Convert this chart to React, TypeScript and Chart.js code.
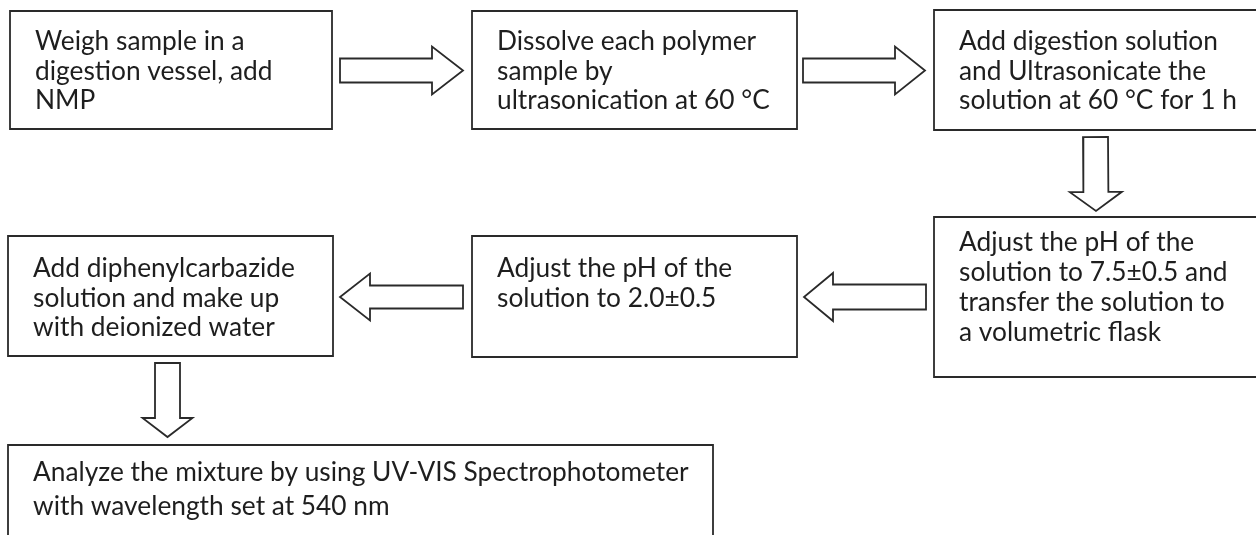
import React, { useEffect, useRef } from 'react';
import { Chart, registerables } from 'chart.js';

Chart.register(...registerables);

// Flow-chart steps (diagram units: x 0..1256, y 0..535 top-down)
const stepTexts: string[][] = [
  ['Weigh sample in a', 'digestion vessel, add', 'NMP'],
  ['Dissolve each polymer', 'sample by', 'ultrasonication at 60 °C'],
  ['Add digestion solution', 'and Ultrasonicate the', 'solution at 60 °C for 1 h'],
  ['Adjust the pH of the', 'solution to 7.5±0.5 and', 'transfer the solution to', 'a volumetric flask'],
  ['Adjust the pH of the', 'solution to 2.0±0.5'],
  ['Add diphenylcarbazide', 'solution and make up', 'with deionized water'],
  ['Analyze the mixture by using UV-VIS Spectrophotometer', 'with wavelength set at 540 nm'],
];
const boxLeft = [10, 472, 934, 934, 472, 8, 8];
const boxRight = [332, 797, 1258, 1258, 797, 333, 713];
const boxTop = [11, 11, 10, 217, 236, 236, 445];
const boxBottom = [129, 129, 130, 377, 357, 356, 545];
const textFirstBaseline = [50, 50, 50, 251, 277, 277, 481];
const textLineGap = [29.5, 29.5, 29.5, 30, 29.5, 29.5, 34];

// Block arrows: tail point, tip point, shaft half-width, head half-width, head length
const arrowTailX = [340, 803, 1095.5, 926, 463, 167.5];
const arrowTailY = [70.5, 70.5, 137, 297, 297, 363];
const arrowTipX = [463, 925, 1096, 804, 340, 167.5];
const arrowTipY = [70.5, 70.5, 211, 297, 297, 437];
const arrowShaftHalf = [12, 12, 12.5, 12.5, 11.5, 12.5];
const arrowHeadHalf = [24, 24, 26, 24, 23.5, 25];
const arrowHeadLen = [31, 30, 19, 29, 30, 19];

function boxPoints(i: number) {
  const l = boxLeft[i], r = boxRight[i], t = boxTop[i], b = boxBottom[i];
  return [
    { x: l, y: t },
    { x: r, y: t },
    { x: r, y: b },
    { x: l, y: b },
    { x: l, y: t },
  ];
}

function arrowPoints(i: number) {
  const tx = arrowTailX[i], ty = arrowTailY[i], px = arrowTipX[i], py = arrowTipY[i];
  const len = Math.hypot(px - tx, py - ty);
  const dx = (px - tx) / len, dy = (py - ty) / len;
  const nx = -dy, ny = dx;
  const bx = px - dx * arrowHeadLen[i], by = py - dy * arrowHeadLen[i];
  const s = arrowShaftHalf[i], h = arrowHeadHalf[i];
  return [
    { x: tx + nx * s, y: ty + ny * s },
    { x: bx + nx * s, y: by + ny * s },
    { x: bx + nx * h, y: by + ny * h },
    { x: px, y: py },
    { x: bx - nx * h, y: by - ny * h },
    { x: bx - nx * s, y: by - ny * s },
    { x: tx - nx * s, y: ty - ny * s },
    { x: tx + nx * s, y: ty + ny * s },
  ];
}

const FONT_SIZE = 26.3;
const TEXT_INSET = 25;

export default function App() {
  const canvasRef = useRef<HTMLCanvasElement | null>(null);

  useEffect(() => {
    document.body.style.margin = '0';
    const canvas = canvasRef.current;
    if (!canvas) return;

    const lineStyle = {
      showLine: true,
      pointRadius: 0,
      pointHoverRadius: 0,
      borderColor: '#2a2a2a',
      borderWidth: 1.8,
      borderJoinStyle: 'miter' as const,
      borderCapStyle: 'square' as const,
      fill: false,
      tension: 0,
    };

    const datasets: any[] = [];
    stepTexts.forEach((_, i) => datasets.push({ label: 'box' + i, data: boxPoints(i), ...lineStyle }));
    arrowTailX.forEach((_, i) => datasets.push({ label: 'arrow' + i, data: arrowPoints(i), ...lineStyle }));

    const textPlugin = {
      id: 'stepText',
      afterDatasetsDraw(chart: any) {
        const { ctx, scales } = chart;
        const xs = scales.x, ys = scales.y;
        ctx.save();
        ctx.font = `${FONT_SIZE}px Lato`;
        ctx.fillStyle = '#1e1e1e';
        ctx.textAlign = 'left';
        ctx.textBaseline = 'alphabetic';
        stepTexts.forEach((lines, i) => {
          lines.forEach((line, j) => {
            ctx.fillText(
              line,
              xs.getPixelForValue(boxLeft[i] + TEXT_INSET),
              ys.getPixelForValue(textFirstBaseline[i] + j * textLineGap[i])
            );
          });
        });
        ctx.restore();
      },
    };

    const chart = new Chart(canvas, {
      type: 'scatter',
      data: { datasets },
      options: {
        animation: false,
        responsive: true,
        maintainAspectRatio: false,
        layout: { padding: 0 },
        scales: {
          x: { type: 'linear', min: 0, max: 1256, display: false },
          y: { type: 'linear', min: 0, max: 535, reverse: true, display: false },
        },
        plugins: { legend: { display: false }, tooltip: { enabled: false } },
        events: [],
      },
      plugins: [textPlugin],
    });
    return () => chart.destroy();
  }, []);

  return (
    <div style={{ position: 'absolute', left: 0, top: 0, width: 1256, height: 535, background: '#fff' }}>
      <canvas ref={canvasRef} />
    </div>
  );
}
